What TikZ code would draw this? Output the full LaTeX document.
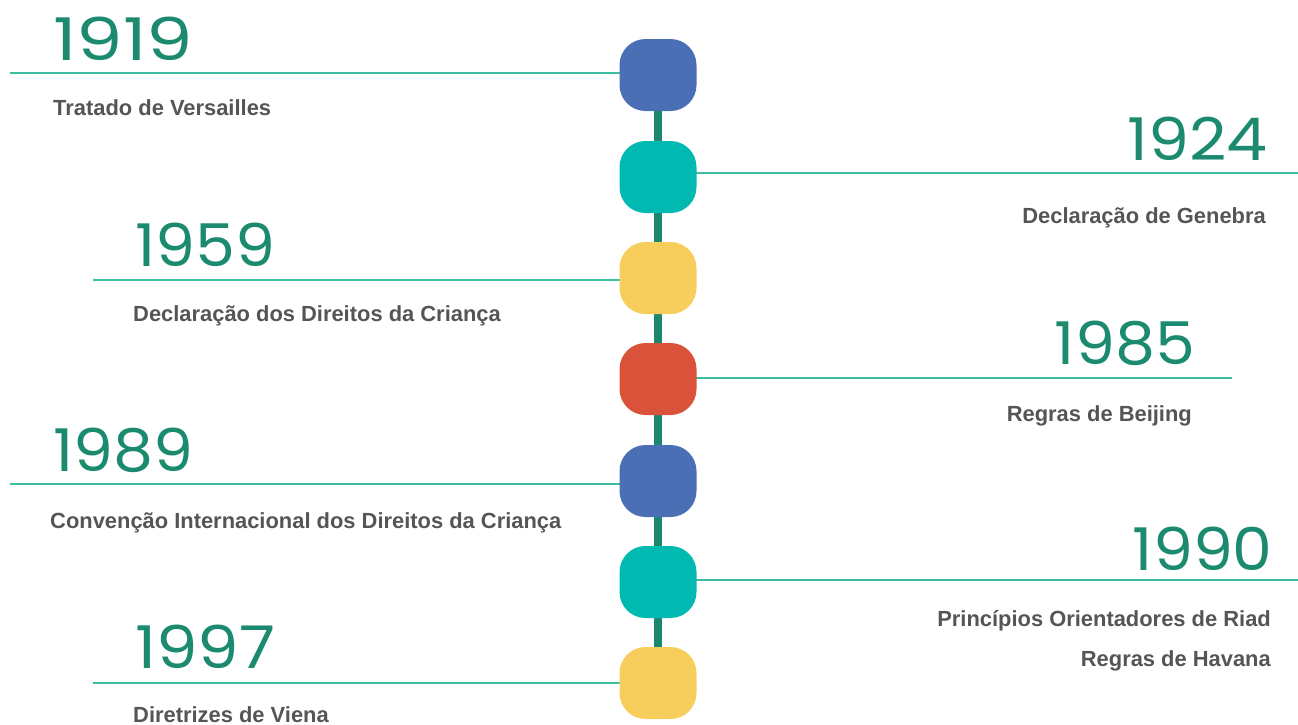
\documentclass[tikz,border=0pt]{standalone}
\usepackage{fontspec}
\setmainfont{Liberation Sans}
\newfontfamily\yearfont{Poppins}
\usetikzlibrary{backgrounds}
\definecolor{cblue}{HTML}{4A6FB5}
\definecolor{cteal}{HTML}{00BAB2}
\definecolor{cyellow}{HTML}{F7CE5B}
\definecolor{cred}{HTML}{DA5239}
\definecolor{spine}{HTML}{1C8770}
\definecolor{yeargreen}{HTML}{1B8A6F}
\definecolor{linegreen}{HTML}{3EBEA0}
\definecolor{labelgray}{HTML}{545557}
\newcommand{\yr}[1]{\resizebox{140pt}{\height}{#1}}
\tikzset{
  x=1pt,y=-1pt,
  event/.style={minimum width=77pt,minimum height=72pt,rounded corners=26pt,inner sep=0pt},
  spineline/.style={spine,line width=8pt},
  tick/.style={linegreen,line width=2.5pt},
  year/.style={inner sep=0pt,text=yeargreen,font=\yearfont\fontsize{59}{59}\selectfont},
  lbl/.style={inner sep=0pt,text=labelgray,font=\bfseries\fontsize{21.9}{21.9}\selectfont},
}
\begin{document}
\begin{tikzpicture}
\useasboundingbox (0,0) rectangle (1298,724);
\node[event,fill=cblue]   (n1) at (658,75) {};
\node[event,fill=cteal]   (n2) at (658,177) {};
\node[event,fill=cyellow] (n3) at (658,278) {};
\node[event,fill=cred]    (n4) at (658,379) {};
\node[event,fill=cblue]   (n5) at (658,481) {};
\node[event,fill=cteal]   (n6) at (658,582) {};
\node[event,fill=cyellow] (n7) at (658,683) {};
\coordinate (e1) at (10,73);
\coordinate (e2) at (1298,173);
\coordinate (e3) at (93,280);
\coordinate (e4) at (1232,378);
\coordinate (e5) at (10,484);
\coordinate (e6) at (1298,580);
\coordinate (e7) at (93,683);
\begin{scope}[on background layer]
\draw[spineline] (n1) -- (n2) -- (n3) -- (n4) -- (n5) -- (n6) -- (n7);
\draw[tick] (e1) -- (e1 -| n1);
\draw[tick] (e2) -- (e2 -| n2);
\draw[tick] (e3) -- (e3 -| n3);
\draw[tick] (e4) -- (e4 -| n4);
\draw[tick] (e5) -- (e5 -| n5);
\draw[tick] (e6) -- (e6 -| n6);
\draw[tick] (e7) -- (e7 -| n7);
\end{scope}
\node[year,anchor=base west] (y1) at (53,60) {\yr{1919}};
\node[year,anchor=base east] (y2) at (1268,160) {\yr{1924}};
\node[year,anchor=base west] (y3) at (135,266) {\yr{1959}};
\node[year,anchor=base east] (y4) at (1195,364) {\yr{1985}};
\node[year,anchor=base west] (y5) at (53,471) {\yr{1989}};
\node[year,anchor=base east] (y6) at (1273,570) {\yr{1990}};
\node[year,anchor=base west] (y7) at (135,668) {\yr{1997}};
\node[lbl,anchor=base west] (t1) at (53,115) {Tratado de Versailles};
\node[lbl,anchor=base east] (t2) at (1266,223) {Declaração de Genebra};
\node[lbl,anchor=base west] (t3) at (133,321) {Declaração dos Direitos da Criança};
\node[lbl,anchor=base east] (t4) at (1192,421) {Regras de Beijing};
\node[lbl,anchor=base west] (t5) at (50,528) {Convenção Internacional dos Direitos da Criança};
\node[lbl,anchor=base east] (t6a) at (1271,626) {Princípios Orientadores de Riad};
\node[lbl,anchor=base east] (t6b) at (1271,666) {Regras de Havana};
\node[lbl,anchor=base west] (t7) at (133,722) {Diretrizes de Viena};
\end{tikzpicture}
\end{document}
